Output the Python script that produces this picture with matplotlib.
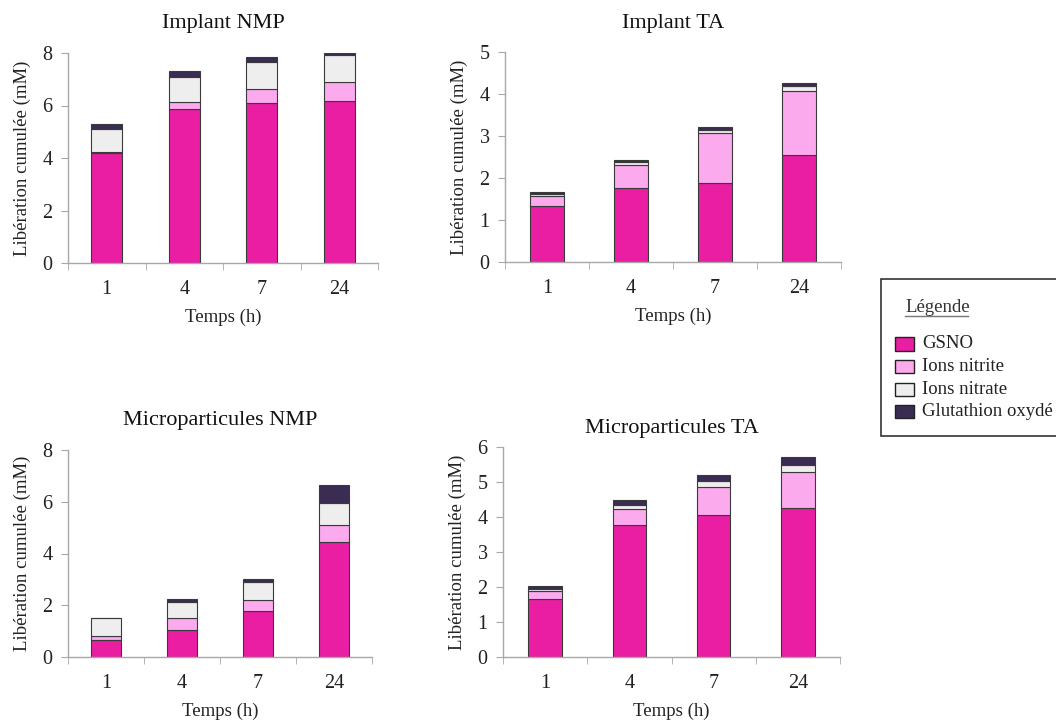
import numpy as np
import matplotlib.pyplot as plt
from matplotlib.patches import Rectangle
from matplotlib.lines import Line2D

plt.rcParams['font.family'] = ['Liberation Serif', 'DejaVu Serif']

# Data
temps = ["1", "4", "7", "24"]
components = ["GSNO", "Ions nitrite", "Ions nitrate", "Glutathion oxydé"]
colors = ["#e91ea3", "#fbaaee", "#eeeeee", "#3a2c52"]

# Implant NMP
impl_nmp_gsno = [4.19, 5.88, 6.11, 6.16]
impl_nmp_nitrite = [0.05, 0.24, 0.52, 0.72]
impl_nmp_nitrate = [0.86, 0.98, 1.01, 1.05]
impl_nmp_gluta = [0.18, 0.21, 0.20, 0.07]

# Implant TA
impl_ta_gsno = [1.34, 1.77, 1.89, 2.54]
impl_ta_nitrite = [0.24, 0.53, 1.17, 1.53]
impl_ta_nitrate = [0.04, 0.07, 0.08, 0.12]
impl_ta_gluta = [0.04, 0.07, 0.08, 0.08]

# Microparticules NMP
micro_nmp_gsno = [0.65, 1.04, 1.76, 4.45]
micro_nmp_nitrite = [0.18, 0.46, 0.45, 0.65]
micro_nmp_nitrate = [0.66, 0.62, 0.67, 0.87]
micro_nmp_gluta = [0.02, 0.12, 0.14, 0.67]

# Microparticules TA
micro_ta_gsno = [1.67, 3.78, 4.07, 4.27]
micro_ta_nitrite = [0.22, 0.46, 0.79, 1.03]
micro_ta_nitrate = [0.04, 0.09, 0.16, 0.18]
micro_ta_gluta = [0.10, 0.17, 0.18, 0.23]

W, H = 1056, 722
fig = plt.figure(figsize=(W / 100, H / 100), dpi=100)


def px_axes(left, right, top, bottom):
    return fig.add_axes([left / W, 1 - bottom / H, (right - left) / W, (bottom - top) / H])


panels = [
    ("Implant NMP", (68, 378, 53, 263), 8, 2, 18,
     [impl_nmp_gsno, impl_nmp_nitrite, impl_nmp_nitrate, impl_nmp_gluta]),
    ("Implant TA", (505, 841, 52, 262), 5, 1, 17,
     [impl_ta_gsno, impl_ta_nitrite, impl_ta_nitrate, impl_ta_gluta]),
    ("Microparticules NMP", (68, 372, 450, 657), 8, 2, 18,
     [micro_nmp_gsno, micro_nmp_nitrite, micro_nmp_nitrate, micro_nmp_gluta]),
    ("Microparticules TA", (503, 840, 447, 657), 6, 1, 10,
     [micro_ta_gsno, micro_ta_nitrite, micro_ta_nitrate, micro_ta_gluta]),
]

axis_grey = "#a8a8a8"
for title, box, ymax, ystep, tpad, series in panels:
    ax = px_axes(*box)
    x = np.arange(len(temps))
    bottom = np.zeros(len(temps))
    for vals, col in zip(series, colors):
        ax.bar(x, vals, 0.4, bottom=bottom, color=col, edgecolor="#3a3a3a", linewidth=0.8)
        bottom += np.array(vals)
    ax.set_xlim(-0.5, len(temps) - 0.5)
    ax.set_ylim(0, ymax)
    ax.set_yticks(np.arange(0, ymax + 0.01, ystep))
    ax.set_xticks(x)
    ax.set_xticklabels(temps)
    ax.set_xticks(np.arange(-0.5, len(temps)), minor=True)
    for s in ["top", "right"]:
        ax.spines[s].set_visible(False)
    for s in ["left", "bottom"]:
        ax.spines[s].set_color(axis_grey)
        ax.spines[s].set_linewidth(1)
    ax.tick_params(axis="x", which="major", length=0, pad=12, labelsize=14.5, colors="#222222")
    ax.tick_params(axis="x", which="minor", length=5, color=axis_grey)
    ax.tick_params(axis="y", length=5, color=axis_grey, pad=6, labelsize=14.5, labelcolor="#222222")
    ax.set_xlabel("Temps (h)", fontsize=13.5, color="#222222", labelpad=7)
    ax.set_ylabel("Libération cumulée (mM)", fontsize=13.5, color="#222222", labelpad=8)
    ax.set_title(title, fontsize=16, color="#111111", pad=tpad)

# Legend box (cut by the right edge like the original)
fig.add_artist(Rectangle((881 / W, 1 - 436 / H), 200 / W, 157 / H, transform=fig.transFigure,
                         facecolor="white", edgecolor="#333333", linewidth=1.2))
fig.text(905 / W, 1 - 307 / H, "Légende", fontsize=13.5, color="#333333", va="center")
fig.add_artist(Line2D([905 / W, 968 / W], [1 - 316 / H, 1 - 316 / H], transform=fig.transFigure,
                      color="#777777", linewidth=1))
for i, (name, col) in enumerate(zip(components, colors)):
    yc = 344 + i * 22.5
    fig.add_artist(Rectangle((895 / W, 1 - (yc + 6.5) / H), 19 / W, 13 / H, transform=fig.transFigure,
                             facecolor=col, edgecolor="#222222", linewidth=1))
    fig.text(922 / W, 1 - yc / H, name, fontsize=13.5, color="#222222", va="center")

plt.savefig("out.png", dpi=100)
